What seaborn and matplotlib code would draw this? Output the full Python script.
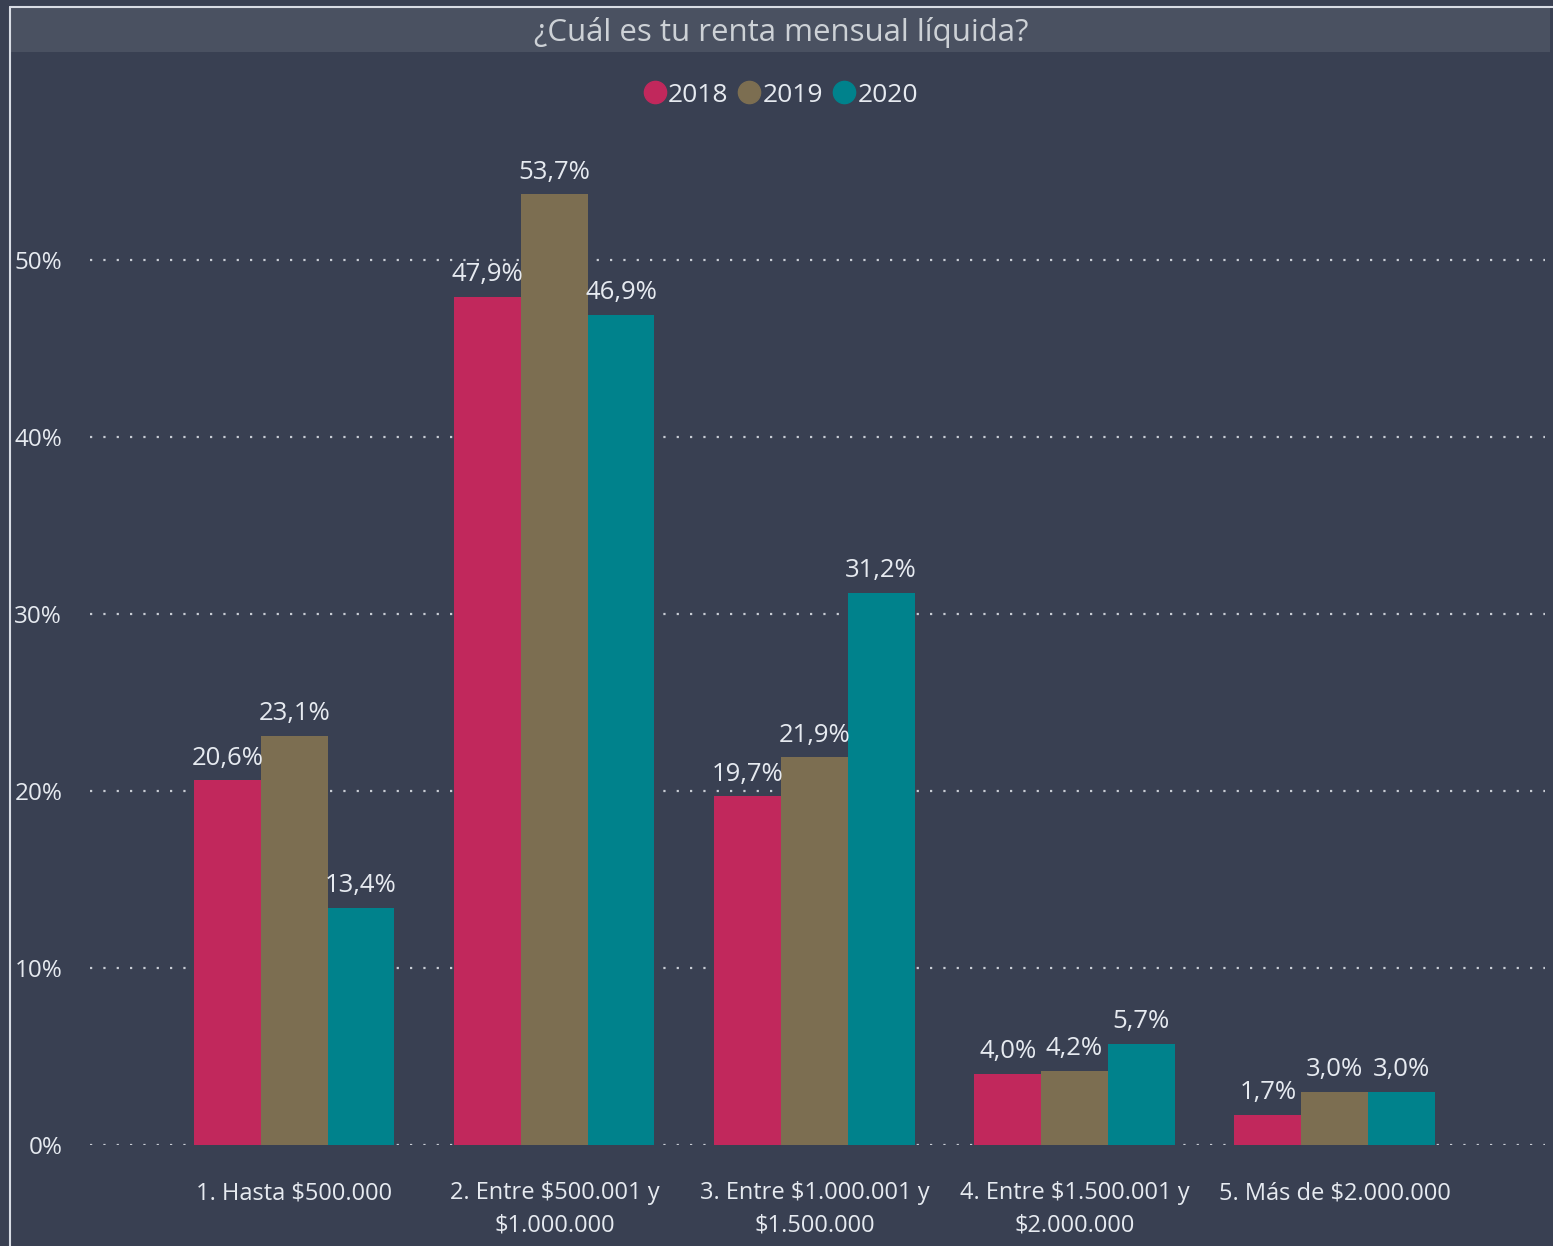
import matplotlib
matplotlib.use('Agg')
import matplotlib.pyplot as plt
import matplotlib.patches as mpatches
from matplotlib.lines import Line2D
import seaborn as sns
import pandas as pd

# datos
categorias = ['1. Hasta $500.000',
              '2. Entre $500.001 y\n$1.000.000',
              '3. Entre $1.000.001 y\n$1.500.000',
              '4. Entre $1.500.001 y\n$2.000.000',
              '5. Más de $2.000.000']
anios = ['2018', '2019', '2020']
valores_2018 = [20.6, 47.9, 19.7, 4.0, 1.7]
valores_2019 = [23.1, 53.7, 21.9, 4.2, 3.0]
valores_2020 = [13.4, 46.9, 31.2, 5.7, 3.0]
colores = ['#C1285C', '#7C6E51', '#00828C']
yticks = [0, 10, 20, 30, 40, 50]

df = pd.DataFrame({
    'categoria': categorias * 3,
    'anio': [a for a in anios for _ in categorias],
    'valor': valores_2018 + valores_2019 + valores_2020,
})

fondo = '#394052'
texto = '#E6EAF0'

sns.set_style('dark')
plt.rcParams['font.family'] = ['Open Sans', 'DejaVu Sans']

fig = plt.figure(figsize=(15.53, 12.46), dpi=100, facecolor=fondo)
ax = fig.add_axes([0.058, 0.0811, 0.937, 0.7955])
ax.set_facecolor(fondo)

sns.barplot(data=df, x='categoria', y='valor', hue='anio', palette=colores,
            width=0.77, gap=0, saturation=1, linewidth=0, ax=ax, legend=False, zorder=3)

# etiquetas de valor
for cont, vals in zip(ax.containers, [valores_2018, valores_2019, valores_2020]):
    ax.bar_label(cont, labels=[f'{v:.1f}%'.replace('.', ',') for v in vals],
                 padding=7, color=texto, fontsize=18.5)

ax.set_ylim(0, 56)
ax.set_xlim(-0.785, 4.81)
ax.set_yticks(yticks)
ax.set_yticklabels([f'{t}%' for t in yticks], color=texto, fontsize=17.5)
ax.tick_params(axis='y', length=0, pad=20)
ax.tick_params(axis='x', length=0, pad=26, labelcolor=texto, labelsize=17)
plt.setp(ax.get_xticklabels(), linespacing=1.45)
ax.yaxis.grid(True, linestyle=(0, (1, 5)), color='#C8CCD4', linewidth=1.6, zorder=0)
ax.xaxis.grid(False)
ax.set_xlabel('')
ax.set_ylabel('')
for s in ax.spines.values():
    s.set_visible(False)

# banda del titulo y borde
fig.patches.append(mpatches.Rectangle((10 / 1553, 1 - 52 / 1246), 1540 / 1553, 45 / 1246,
                                      transform=fig.transFigure, facecolor='#4A5161',
                                      edgecolor='none', zorder=0))
fig.lines.append(Line2D([10 / 1553, 10 / 1553], [0, 1 - 7 / 1246], transform=fig.transFigure,
                        color='#D8DCE4', linewidth=1.5))
fig.lines.append(Line2D([10 / 1553, 1], [1 - 7 / 1246, 1 - 7 / 1246], transform=fig.transFigure,
                        color='#D8DCE4', linewidth=1.5))
fig.text(0.503, 1 - 32 / 1246, '¿Cuál es tu renta mensual líquida?', ha='center', va='center',
         color='#CDD1D6', fontsize=22.5)

# leyenda
handles = [Line2D([], [], marker='o', linestyle='none', markersize=16,
                  markerfacecolor=c, markeredgecolor=c) for c in colores]
fig.legend(handles, anios, loc='center', bbox_to_anchor=(0.502, 1 - 95 / 1246), ncol=3,
           frameon=False, fontsize=19, labelcolor=texto, handletextpad=0.0,
           columnspacing=0.3, handlelength=1.0)

fig.savefig('out.png', dpi=100, facecolor=fondo)
